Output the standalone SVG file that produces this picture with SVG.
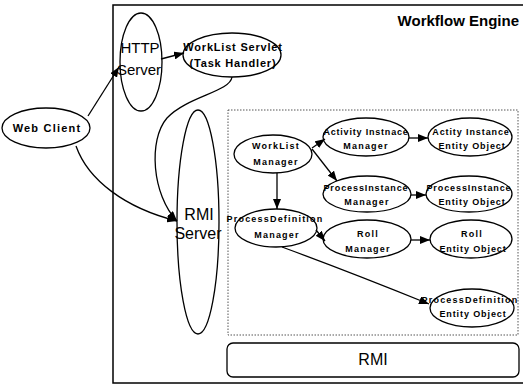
<svg xmlns="http://www.w3.org/2000/svg" width="523" height="384" viewBox="0 0 523 384">
<style>
.sh{fill:#fff;stroke:#000;stroke-width:1.3}
.big{font-family:"Liberation Sans",Arial,sans-serif;font-size:16px;fill:#000;text-anchor:middle}
.sm{font-family:"Liberation Sans",Arial,sans-serif;font-size:9px;font-weight:bold;letter-spacing:1.2px;fill:#000;text-anchor:middle}
.md{font-family:"Liberation Sans",Arial,sans-serif;font-size:11px;font-weight:bold;letter-spacing:0.8px;fill:#000;text-anchor:middle}
.cn{fill:none;stroke:#000;stroke-width:1.3;marker-end:url(#ah)}
</style>
<defs>
<marker id="ah" markerUnits="userSpaceOnUse" markerWidth="10" markerHeight="8" refX="10" refY="4" orient="auto">
<path d="M0,0 L10,4 L0,8 z" fill="#000"/>
</marker>
</defs>
<rect x="0" y="0" width="523" height="384" fill="#fff"/>
<g id="workflow-engine">
<rect x="113" y="5" width="430" height="378" fill="none" stroke="#000" stroke-width="1.5"/>
<text x="519" y="26" font-family="Liberation Sans,Arial,sans-serif" font-size="15" font-weight="bold" text-anchor="end">Workflow Engine</text>
</g>
<g id="inner-box">
<rect x="228" y="110" width="290" height="225" fill="none" stroke="#555" stroke-width="1" stroke-dasharray="1.5,1.5"/>
</g>
<g id="rmi-bar">
<rect x="227" y="343" width="292" height="34" rx="6" class="sh"/>
<text x="373" y="365" class="big">RMI</text>
</g>
<g id="web-client">
<ellipse cx="46" cy="128" rx="44" ry="20" class="sh"/>
<text x="47" y="132" class="md" style="letter-spacing:1.2px">Web Client</text>
</g>
<g id="http-server">
<ellipse cx="141" cy="62" rx="21" ry="49" class="sh"/>
<text x="140" y="53" class="big" style="font-size:15px">HTTP</text>
<text x="139" y="75" class="big" style="font-size:15px">Server</text>
</g>
<g id="worklist-servlet">
<ellipse cx="232" cy="55" rx="49" ry="22" class="sh"/>
<text x="233" y="51" class="md">WorkList Servlet</text>
<text x="233" y="67" class="md">(Task Handler)</text>
</g>
<g id="rmi-server">
<ellipse cx="198" cy="222" rx="21" ry="112" class="sh"/>
<text x="199" y="220" class="big">RMI</text>
<text x="198" y="239" class="big">Server</text>
</g>
<g id="worklist-manager">
<ellipse cx="273" cy="154" rx="39" ry="19" class="sh"/>
<text x="276" y="149" class="sm">WorkList</text>
<text x="276" y="165" class="sm">Manager</text>
</g>
<g id="processdefinition-manager">
<ellipse cx="276" cy="228" rx="41" ry="19" class="sh"/>
<text x="275" y="222" class="sm">ProcessDefinition</text>
<text x="277" y="238" class="sm">Manager</text>
</g>
<g id="activity-instance-manager">
<ellipse cx="366" cy="137" rx="43" ry="19" class="sh"/>
<text x="366" y="135" class="sm" style="letter-spacing:0.8px">Activity Instnace</text>
<text x="366" y="149" class="sm">Manager</text>
</g>
<g id="activity-instance-entity">
<ellipse cx="470" cy="137" rx="42" ry="19" class="sh"/>
<text x="471" y="135" class="sm" style="letter-spacing:0.9px">Actity Instance</text>
<text x="472" y="149" class="sm" style="letter-spacing:0.9px">Entity Object</text>
</g>
<g id="processinstance-manager">
<ellipse cx="367" cy="194" rx="44" ry="18" class="sh"/>
<text x="366" y="191" class="sm" style="letter-spacing:0.9px">ProcessInstance</text>
<text x="367" y="205" class="sm">Manager</text>
</g>
<g id="processinstance-entity">
<ellipse cx="469" cy="194" rx="43" ry="18" class="sh"/>
<text x="469" y="191" class="sm" style="letter-spacing:0.9px">ProcessInstance</text>
<text x="472" y="205" class="sm" style="letter-spacing:0.9px">Entity Object</text>
</g>
<g id="roll-manager">
<ellipse cx="367" cy="239" rx="44" ry="19" class="sh"/>
<text x="368" y="237" class="sm">Roll</text>
<text x="368" y="252" class="sm">Manager</text>
</g>
<g id="roll-entity">
<ellipse cx="471" cy="239" rx="41" ry="19" class="sh"/>
<text x="472" y="237" class="sm">Roll</text>
<text x="473" y="252" class="sm" style="letter-spacing:0.9px">Entity Object</text>
</g>
<g id="processdefinition-entity">
<ellipse cx="472" cy="308" rx="42" ry="19" class="sh"/>
<text x="470" y="303" class="sm">ProcessDefinition</text>
<text x="473" y="317" class="sm" style="letter-spacing:0.9px">Entity Object</text>
</g>
<g id="connectors">
<path class="cn" d="M88,116 L119,67"/>
<path class="cn" d="M161,59 L184,53"/>
<path class="cn" d="M232,77 C230,92 188,96 167,118 C148,140 152,195 177,221"/>
<path class="cn" d="M76,146 C88,180 125,208 177,221"/>
<path class="cn" d="M312,148 L325,139"/>
<path class="cn" d="M312,149 L337,181"/>
<path class="cn" d="M277,173 L277,209"/>
<path class="cn" d="M316,230 L325,241"/>
<path class="cn" d="M282,247 Q350,272 429,304"/>
<path class="cn" d="M409,138 L428,138"/>
<path class="cn" d="M411,195 L426,195"/>
<path class="cn" d="M411,240 L430,240"/>
</g>
</svg>
